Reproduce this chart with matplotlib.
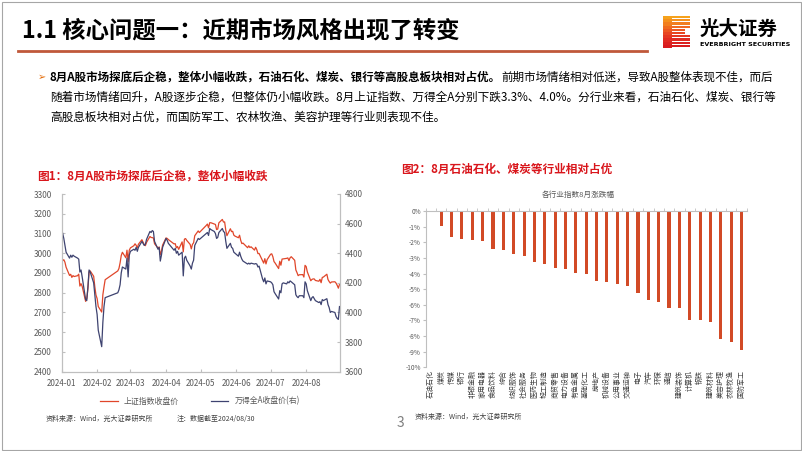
"""光大证券 8月市场回顾页：上证/万得全A走势 + 申万一级行业8月涨跌幅。"""
import matplotlib
matplotlib.use("Agg")
import matplotlib.pyplot as plt
import matplotlib.dates as mdates
from matplotlib.patches import Rectangle
import pandas as pd

plt.rcParams["font.family"] = ["Noto Sans CJK SC", "DejaVu Sans"]

# ---------- 数据 ----------
days = ["01-02", "01-03", "01-04", "01-05", "01-08", "01-09", "01-10", "01-11", "01-12", "01-15", "01-16",
        "01-17", "01-18", "01-19", "01-22", "01-23", "01-24", "01-25", "01-26", "01-29", "01-30", "01-31",
        "02-01", "02-02", "02-05", "02-06", "02-07", "02-08", "02-19", "02-20", "02-21", "02-22", "02-23",
        "02-26", "02-27", "02-28", "02-29",
        "03-01", "03-04", "03-05", "03-06", "03-07", "03-08", "03-11", "03-12", "03-13", "03-14", "03-15",
        "03-18", "03-19", "03-20", "03-21", "03-22", "03-25", "03-26", "03-27", "03-28", "03-29",
        "04-01", "04-02", "04-03", "04-08", "04-09", "04-10", "04-11", "04-12", "04-15", "04-16", "04-17",
        "04-18", "04-19", "04-22", "04-23", "04-24", "04-25", "04-26", "04-29", "04-30",
        "05-06", "05-07", "05-08", "05-09", "05-10", "05-13", "05-14", "05-15", "05-16", "05-17", "05-20",
        "05-21", "05-22", "05-23", "05-24", "05-27", "05-28", "05-29", "05-30", "05-31",
        "06-03", "06-04", "06-05", "06-06", "06-07", "06-11", "06-12", "06-13", "06-14", "06-17", "06-18",
        "06-19", "06-20", "06-21", "06-24", "06-25", "06-26", "06-27", "06-28",
        "07-01", "07-02", "07-03", "07-04", "07-05", "07-08", "07-09", "07-10", "07-11", "07-12", "07-15",
        "07-16", "07-17", "07-18", "07-19", "07-22", "07-23", "07-24", "07-25", "07-26", "07-29", "07-30", "07-31",
        "08-01", "08-02", "08-05", "08-06", "08-07", "08-08", "08-09", "08-12", "08-13", "08-14", "08-15",
        "08-16", "08-19", "08-20", "08-21", "08-22", "08-23", "08-26", "08-27", "08-28", "08-29", "08-30"]

sh_close = [2962.28, 2967.25, 2954.35, 2929.18, 2887.54, 2893.25, 2877.70, 2886.65, 2881.98, 2886.29, 2893.99,
            2833.62, 2845.78, 2832.28, 2756.34, 2770.74, 2820.77, 2906.11, 2910.22, 2883.36, 2830.53, 2788.55,
            2770.74, 2730.15, 2702.19, 2789.49, 2829.70, 2865.90, 2910.54, 2922.73, 2950.96, 2988.36, 3004.88,
            2977.02, 3015.48, 2957.85, 3015.17,
            3027.02, 3038.23, 3047.79, 3039.93, 3027.40, 3046.02, 3068.46, 3055.94, 3043.84, 3038.23, 3054.64,
            3084.93, 3079.69, 3079.25, 3077.11, 3048.03, 3026.31, 3031.48, 2993.14, 3010.66, 3041.17,
            3077.38, 3074.96, 3069.30, 3047.05, 3048.54, 3027.34, 3034.25, 3019.47, 3057.38, 3007.07, 3071.38,
            3074.22, 3065.26, 3044.60, 3021.98, 3044.82, 3052.90, 3088.64, 3113.04, 3104.82,
            3140.72, 3147.74, 3128.48, 3154.32, 3154.55, 3148.02, 3145.77, 3119.90, 3122.40, 3154.03, 3171.15,
            3157.97, 3158.54, 3116.39, 3088.87, 3124.04, 3109.57, 3111.02, 3091.68, 3086.81,
            3078.49, 3091.20, 3065.40, 3048.79, 3051.28, 3028.05, 3037.47, 3028.92, 3032.63, 3015.89, 3030.25,
            3018.05, 2998.14, 2998.70, 2963.10, 2950.00, 2972.53, 2945.85, 2967.40,
            2994.73, 2997.01, 2982.38, 2957.57, 2949.94, 2922.45, 2959.37, 2939.36, 2970.39, 2971.30, 2974.01,
            2976.30, 2962.77, 2977.13, 2982.31, 2964.22, 2915.37, 2901.95, 2886.43, 2890.90, 2891.85, 2879.30, 2938.75,
            2932.39, 2905.34, 2860.70, 2867.28, 2869.90, 2869.83, 2862.19, 2858.20, 2867.95, 2850.65, 2877.36,
            2879.43, 2893.67, 2866.66, 2856.58, 2848.77, 2854.37, 2855.52, 2848.73, 2837.43, 2823.11, 2842.21]

wind_a = [4535, 4500, 4453, 4407, 4367, 4387, 4373, 4387, 4380, 4367, 4360,
          4273, 4287, 4240, 4087, 4080, 4173, 4287, 4273, 4200, 4120, 4040,
          3987, 3880, 3769, 3933, 4040, 4100, 4133, 4153, 4187, 4267, 4307,
          4293, 4367, 4240, 4387,
          4413, 4427, 4420, 4440, 4413, 4440, 4480, 4467, 4453, 4460, 4493,
          4547, 4540, 4553, 4547, 4480, 4427, 4440, 4347, 4387, 4440,
          4500, 4487, 4467, 4420, 4433, 4400, 4413, 4387, 4407, 4247, 4367,
          4380, 4353, 4313, 4293, 4333, 4353, 4453, 4500, 4493,
          4533, 4540, 4520, 4567, 4560, 4547, 4533, 4500, 4507, 4540, 4567,
          4547, 4540, 4480, 4433, 4467, 4440, 4433, 4407, 4400,
          4380, 4407, 4380, 4360, 4347, 4327, 4333, 4327, 4333, 4327, 4330,
          4327, 4307, 4313, 4227, 4207, 4233, 4193, 4213,
          4207, 4200, 4187, 4140, 4127, 4091, 4147, 4133, 4193, 4200, 4193,
          4207, 4200, 4213, 4207, 4187, 4120, 4107, 4100, 4113, 4113, 4100, 4207,
          4193, 4147, 4080, 4100, 4107, 4093, 4080, 4067, 4073, 4053, 4087,
          4080, 4093, 4053, 4033, 4000, 4007, 4000, 3973, 3960, 3953, 4040]

industries = ["石油石化", "煤炭", "传媒", "银行", "非银金融", "家用电器", "食品饮料", "综合", "纺织服饰", "社会服务",
              "医药生物", "轻工制造", "商贸零售", "电力设备", "有色金属", "基础化工", "房地产", "机械设备", "公用事业",
              "交通运输", "电子", "汽车", "环保", "通信", "建筑装饰", "计算机", "钢铁", "建筑材料", "美容护理",
              "农林牧渔", "国防军工"]
aug_chg = [-0.05, -0.95, -1.66, -1.77, -1.85, -1.94, -2.45, -2.47, -2.72, -2.85,
           -3.28, -3.38, -3.64, -3.74, -3.98, -4.04, -4.49, -4.53, -4.68,
           -4.83, -5.27, -5.72, -5.85, -6.19, -6.23, -6.96, -6.97, -7.13, -8.17,
           -8.36, -8.91]

RED = "#E0462A"
NAVY = "#3E4370"
BAR = "#D24A26"
TITLE_RED = "#D9161C"
GRID = "#BFBFBF"
TXT = "#595959"

W, H = 802, 451
fig = plt.figure(figsize=(W / 100, H / 100), dpi=100)
page = fig.add_axes([0, 0, 1, 1])
page.set_xlim(0, W); page.set_ylim(H, 0); page.axis("off")


def box(x0, y0, x1, y1):
    return [x0 / W, 1 - y1 / H, (x1 - x0) / W, (y1 - y0) / H]


# ---------- 页面框架 ----------
page.add_patch(Rectangle((1.5, 1.5), W - 3, H - 3, fill=False, ec="#A6A6A6", lw=0.8))
page.text(22, 30, "1.1 核心问题一：近期市场风格出现了转变", fontsize=16.8, weight="bold", va="center")
page.plot([18, 647], [51, 51], color="#C0583A", lw=2)

# logo
stripes = ["#F6A21C", "#F4901E", "#F27E1F", "#EF6A20", "#EC5721", "#E84521", "#E43621", "#E02A20", "#DC211F", "#D81B1E"]
for i, c in enumerate(stripes):
    y = 16 + i * 3.2
    page.add_patch(Rectangle((663, y), 9, 3.3, color=c, lw=0))
    w = 13 if i in (4, 5) else 18
    page.add_patch(Rectangle((672, y), w, 2.2, color=c, lw=0))
page.text(700, 29, "光大证券", fontsize=14, weight="bold", va="center")
page.text(700, 45, "EVERBRIGHT SECURITIES", fontsize=4.6, weight="bold", va="center", family="DejaVu Sans")

# 正文
page.text(38, 77, "➢", color="#E46C0A", fontsize=7, va="center", family="DejaVu Sans")
bold = page.text(50, 77, "8月A股市场探底后企稳，整体小幅收跌，石油石化、煤炭、银行等高股息板块相对占优。",
                 fontsize=8.3, weight="bold", va="center")
fig.canvas.draw()
x1 = bold.get_window_extent().x1
page.text(x1, 77, "前期市场情绪相对低迷，导致A股整体表现不佳，而后", fontsize=8.3, va="center")
page.text(50, 97, "随着市场情绪回升，A股逐步企稳，但整体仍小幅收跌。8月上证指数、万得全A分别下跌3.3%、4.0%。分行业来看，石油石化、煤炭、银行等",
          fontsize=8.4, va="center")
page.text(50, 117, "高股息板块相对占优，而国防军工、农林牧渔、美容护理等行业则表现不佳。", fontsize=8.4, va="center")

# ---------- 图1 ----------
page.text(37, 176, "图1：8月A股市场探底后企稳，整体小幅收跌", color=TITLE_RED, fontsize=8.4, weight="bold", va="center")
dates = pd.to_datetime(["2024-" + d for d in days])
ax1 = fig.add_axes(box(61.5, 194, 339.5, 371.7))
l1, = ax1.plot(dates, sh_close, color=RED, lw=0.9, label="上证指数收盘价")
ax1.set_ylim(2400, 3300); ax1.set_yticks(range(2400, 3301, 100))
ax1.set_xlim(pd.Timestamp("2024-01-01"), pd.Timestamp("2024-08-30"))
ax1.xaxis.set_major_locator(mdates.MonthLocator())
ax1.xaxis.set_major_formatter(mdates.DateFormatter("%Y-%m"))
ax2 = ax1.twinx()
l2, = ax2.plot(dates, wind_a, color=NAVY, lw=0.9, label="万得全A收盘价(右)")
ax2.set_ylim(3600, 4800); ax2.set_yticks(range(3600, 4801, 200))
for a in (ax1, ax2):
    a.spines["top"].set_visible(False)
    for s in ("left", "right", "bottom"):
        a.spines[s].set_color(GRID); a.spines[s].set_linewidth(0.8)
    a.tick_params(direction="in", length=2.5, color=GRID, labelsize=5.8, labelcolor=TXT)
ax1.tick_params(axis="y", pad=7)
ax1.tick_params(axis="x", pad=5)
ax2.tick_params(axis="y", pad=4)
fig.legend(handles=[l1, l2], loc="center", bbox_to_anchor=(200 / W, 1 - 401 / H), ncol=2, frameon=False,
           fontsize=5.7, handlelength=2.2, columnspacing=4, labelcolor=TXT)
page.text(46, 419, "资料来源：Wind，光大证券研究所", fontsize=5, color="#404040", va="center")
page.text(177, 419, "注：数据截至2024/08/30", fontsize=5, color="#404040", va="center")

# ---------- 图2 ----------
page.text(401, 169, "图2：8月石油石化、煤炭等行业相对占优", color=TITLE_RED, fontsize=8.4, weight="bold", va="center")
page.text(578, 195, "各行业指数8月涨跌幅", ha="center", va="center", fontsize=5.5, color=TXT)
ax3 = fig.add_axes(box(425.7, 211, 746.7, 367.3))
ax3.bar(range(len(industries)), aug_chg, width=0.3, color=BAR)
ax3.set_ylim(-10, 0); ax3.set_xlim(-0.5, len(industries) - 0.5)
ax3.set_yticks(range(-10, 1))
ax3.set_yticklabels([f"{v}%" for v in range(-10, 1)])
ax3.set_xticks(range(len(industries)))
ax3.set_xticklabels(industries, rotation=90)
ax3.set_xticks([i - 0.5 for i in range(len(industries) + 1)], minor=True)
ax3.spines["bottom"].set_visible(False); ax3.spines["right"].set_visible(False)
for s in ("left", "top"):
    ax3.spines[s].set_color(GRID); ax3.spines[s].set_linewidth(0.8)
ax3.tick_params(axis="y", length=2, color=GRID, labelsize=4.7, labelcolor=TXT, pad=1.5)
ax3.tick_params(axis="x", which="major", length=0, labelsize=5.0, labelcolor="#404040", pad=2)
ax3.tick_params(axis="x", which="minor", bottom=False, top=True, length=2, color=GRID)
page.text(415, 417, "资料来源：Wind，光大证券研究所", fontsize=5, color="#404040", va="center")
page.text(400, 423, "3", fontsize=10, color="#7F7F7F", ha="center", va="center")

fig.savefig("out.png", dpi=100)
